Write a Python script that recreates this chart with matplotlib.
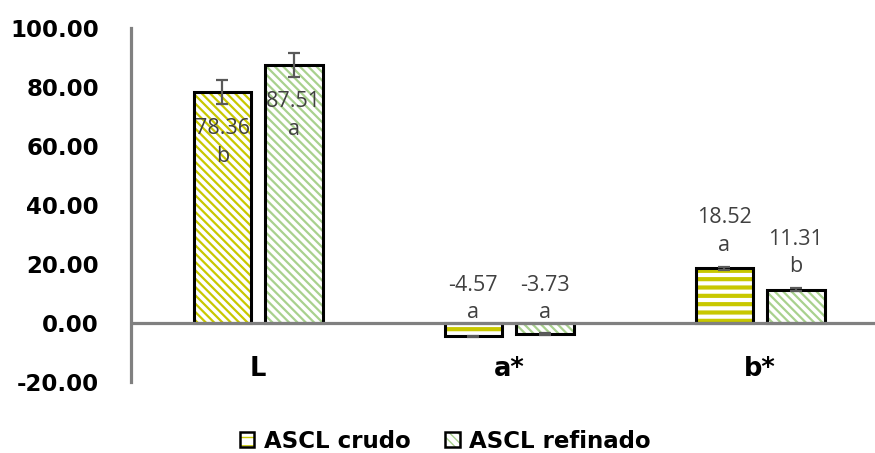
import matplotlib
matplotlib.use('Agg')
import matplotlib.pyplot as plt
from matplotlib.patches import Patch

categories = ['L', 'a*', 'b*']
crudo = [78.36, -4.57, 18.52]
refinado = [87.51, -3.73, 11.31]
crudo_err = [4.0, 0.3, 0.6]
refinado_err = [4.0, 0.3, 0.4]
crudo_let = ['b', 'a', 'a']
refinado_let = ['a', 'a', 'b']
yticks = [-20, 0, 20, 40, 60, 80, 100]

yellow = '#C8C800'
green = '#A9D18E'
grey = '#808080'
txt = '#404040'

diag = '\\' * 4
crudo_hatch = [diag, '--', '--']
refinado_hatch = [diag, diag, diag]

fig = plt.figure(figsize=(8.75, 4.53), dpi=100)
ax = fig.add_axes([131/875, 71/453, 744/875, 354/453])

w = 0.23
off = 0.142


def draw(xpos, val, err, hatch, col, lw_h):
    b = ax.bar(xpos, val, w, color='white', edgecolor=col, hatch=hatch,
               linewidth=0, zorder=2)
    for p in b:
        if hasattr(p, 'set_hatch_linewidth'):
            p.set_hatch_linewidth(lw_h)
    ax.bar(xpos, val, w, fill=False, edgecolor='black', linewidth=2.2, zorder=3)
    ax.errorbar(xpos, val, yerr=err, fmt='none', ecolor='#595959',
                elinewidth=1.6, capsize=4, capthick=1.6, zorder=4)


for i in range(len(categories)):
    hl = 3.0 if crudo_hatch[i] == '--' else 1.6
    draw(i - off, crudo[i], crudo_err[i], crudo_hatch[i], yellow, hl)
    draw(i + off, refinado[i], refinado_err[i], refinado_hatch[i], green, 1.6)

for i in range(len(categories)):
    for xpos, v, let in [(i - off, crudo[i], crudo_let[i]),
                         (i + off, refinado[i], refinado_let[i])]:
        s = '%.2f\n%s' % (v, let)
        if v > 50:
            ax.annotate(s, (xpos, v), xytext=(0, -19), textcoords='offset points',
                        ha='center', va='top', fontsize=15.5, color=txt,
                        family='Open Sans', linespacing=1.4, zorder=5)
        else:
            dy = 9 if v > 0 else 0
            ax.annotate(s, (xpos, max(v, 0)), xytext=(0, dy), textcoords='offset points',
                        ha='center', va='bottom', fontsize=15.5, color=txt,
                        family='Open Sans', linespacing=1.4, zorder=5)
    ax.annotate(categories[i], (i, 0), xytext=(0, -24), textcoords='offset points',
                ha='center', va='top', fontsize=18.5, fontweight='bold',
                family='DejaVu Sans', color='black')

ax.axhline(0, color=grey, linewidth=2.3, zorder=6)
ax.set_xlim(-0.506, 2.458)
ax.set_ylim(-20, 100)
ax.set_yticks(yticks)
ax.set_yticklabels(['%.2f' % t for t in yticks], fontsize=16.5, fontweight='bold')
ax.tick_params(axis='y', length=0, pad=23)
ax.set_xticks([])
for s in ['top', 'right', 'bottom']:
    ax.spines[s].set_visible(False)
ax.spines['left'].set_color(grey)
ax.spines['left'].set_linewidth(2.3)

h1 = (Patch(facecolor='white', edgecolor=yellow, hatch='--', linewidth=0),
      Patch(fill=False, edgecolor='black', linewidth=1.8))
h2 = (Patch(facecolor='white', edgecolor=green, hatch=diag, linewidth=0),
      Patch(fill=False, edgecolor='black', linewidth=1.8))
fig.legend([h1, h2], ['ASCL crudo', 'ASCL refinado'], loc='center',
           bbox_to_anchor=(445/875, 1 - 441/453), ncol=2, frameon=False,
           prop={'size': 16.5, 'weight': 'bold'}, handlelength=0.65, handleheight=0.65,
           handletextpad=0.4, columnspacing=1.5)

fig.savefig('out.png', dpi=100)
